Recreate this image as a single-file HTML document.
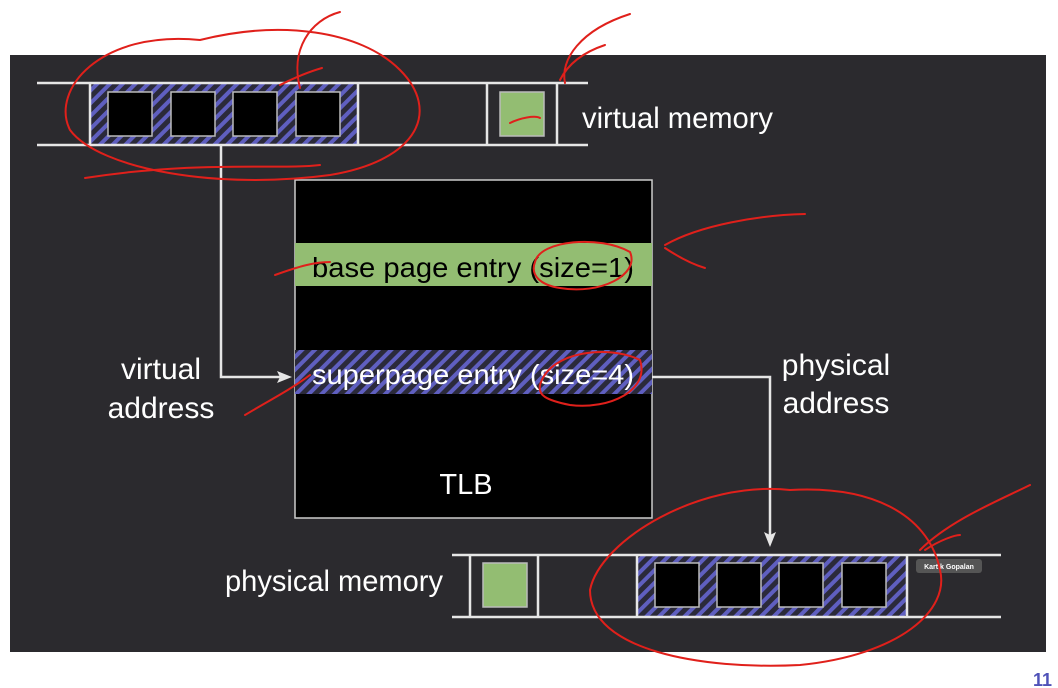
<!DOCTYPE html>
<html><head><meta charset="utf-8"><style>
html,body{margin:0;padding:0;background:#fff;}
body{width:1058px;height:688px;position:relative;overflow:hidden;font-family:"Liberation Sans",sans-serif;}
svg{position:absolute;left:0;top:0;}
</style></head><body>
<svg width="1058" height="688" viewBox="0 0 1058 688">
<defs>
<pattern id="h" patternUnits="userSpaceOnUse" width="9" height="9" patternTransform="rotate(45)">
<rect width="9" height="9" fill="#2b2a3a"/><rect width="4" height="9" fill="#5f5fc0"/>
</pattern>
</defs>
<rect x="10" y="55" width="1036" height="597" fill="#2b2a2e"/>
<!-- top memory -->
<rect x="90" y="83" width="267" height="62" fill="url(#h)"/>
<g fill="#000" stroke="#bbb" stroke-width="1.5">
<rect x="108" y="92" width="44" height="44"/><rect x="171" y="92" width="44" height="44"/>
<rect x="233" y="92" width="44" height="44"/><rect x="296" y="92" width="44" height="44"/>
</g>
<rect x="500" y="92" width="44" height="44" fill="#93bd72" stroke="#bbb" stroke-width="1.5"/>
<g stroke="#e6e6e6" stroke-width="2.5" fill="none">
<line x1="37" y1="83" x2="588" y2="83"/><line x1="37" y1="145" x2="588" y2="145"/>
<line x1="90" y1="83" x2="90" y2="145"/><line x1="358" y1="83" x2="358" y2="145"/>
<line x1="487" y1="83" x2="487" y2="145"/><line x1="557" y1="83" x2="557" y2="145"/>
</g>
<!-- TLB -->
<rect x="295" y="180" width="357" height="338" fill="#000" stroke="#ccc" stroke-width="1.5"/>
<rect x="295" y="243" width="357" height="43" fill="#93bd72"/>
<rect x="295" y="350" width="357" height="44" fill="url(#h)"/>
<text x="312" y="277" font-size="28" fill="#000" textLength="322" lengthAdjust="spacingAndGlyphs">base page entry (size=1)</text>
<text x="312" y="384" font-size="28" fill="#fff" textLength="322" lengthAdjust="spacingAndGlyphs">superpage entry (size=4)</text>
<text x="466" y="494" font-size="29" fill="#fff" text-anchor="middle">TLB</text>
<!-- arrows -->
<g stroke="#e6e6e6" stroke-width="2.5" fill="none">
<polyline points="221,146 221,377 280,377"/>
<polyline points="652,377 770,377 770,535"/>
</g>
<polygon points="292,377 277,371 280,377 277,383" fill="#e6e6e6"/>
<polygon points="770,547 764,532 770,535 776,532" fill="#e6e6e6"/>
<!-- bottom memory -->
<rect x="637" y="555" width="270" height="62" fill="url(#h)"/>
<g fill="#000" stroke="#bbb" stroke-width="1.5">
<rect x="655" y="563" width="44" height="44"/><rect x="717" y="563" width="44" height="44"/>
<rect x="779" y="563" width="44" height="44"/><rect x="842" y="563" width="44" height="44"/>
</g>
<rect x="483" y="563" width="44" height="44" fill="#93bd72" stroke="#bbb" stroke-width="1.5"/>
<g stroke="#e6e6e6" stroke-width="2.5" fill="none">
<line x1="452" y1="555" x2="1001" y2="555"/><line x1="452" y1="617" x2="1001" y2="617"/>
<line x1="470" y1="555" x2="470" y2="617"/><line x1="538" y1="555" x2="538" y2="617"/>
<line x1="637" y1="555" x2="637" y2="617"/><line x1="907" y1="555" x2="907" y2="617"/>
</g>
<rect x="916" y="559" width="66" height="14" rx="3" fill="#555"/>
<text x="949" y="569" font-size="7" fill="#fff" text-anchor="middle" font-weight="bold">Kartik Gopalan</text>
<!-- labels -->
<g fill="#fff" font-size="30">
<text x="582" y="128" textLength="191" lengthAdjust="spacingAndGlyphs">virtual memory</text>
<text x="161" y="379" text-anchor="middle">virtual</text>
<text x="161" y="418" text-anchor="middle">address</text>
<text x="836" y="375" text-anchor="middle">physical</text>
<text x="836" y="413" text-anchor="middle">address</text>
<text x="225" y="591" textLength="218" lengthAdjust="spacingAndGlyphs">physical memory</text>
</g>
<text x="1052" y="686" font-size="18" font-weight="bold" fill="#4f52b8" text-anchor="end">11</text>
<!-- red annotations -->
<g stroke="#e0201b" stroke-width="2" fill="none" stroke-linecap="round">
<path d="M200,40 C100,30 50,90 70,130 C100,170 220,190 330,175 C420,160 440,110 400,70 C360,30 280,20 200,40 Z"/>
<path d="M85,178 C200,160 280,170 320,165"/>
<path d="M300,88 C290,50 310,20 340,12 M280,85 C300,75 315,70 322,68"/>
<path d="M565,83 C560,60 580,30 630,14 M560,80 C570,60 590,50 605,45"/>
<path d="M510,123 C520,118 535,115 540,118"/>
<path d="M665,245 C700,225 760,215 805,214 M665,248 C680,258 695,265 705,268"/>
<path d="M535,262 C540,240 600,235 630,252 C640,275 600,295 560,288 C540,285 530,275 535,262 Z"/>
<path d="M275,275 C300,266 315,262 330,262"/>
<path d="M540,385 C550,350 610,345 640,360 C650,390 610,410 570,405 C545,400 538,395 540,385 Z"/>
<path d="M245,415 C270,400 290,390 310,375"/>
<path d="M790,490 C700,480 600,540 590,590 C590,650 700,670 800,665 C900,655 950,610 940,570 C930,520 880,485 790,490 Z"/>
<path d="M920,550 C950,520 1000,500 1030,485 M925,550 C940,540 955,535 960,535"/>
</g>
</svg>
</body></html>
